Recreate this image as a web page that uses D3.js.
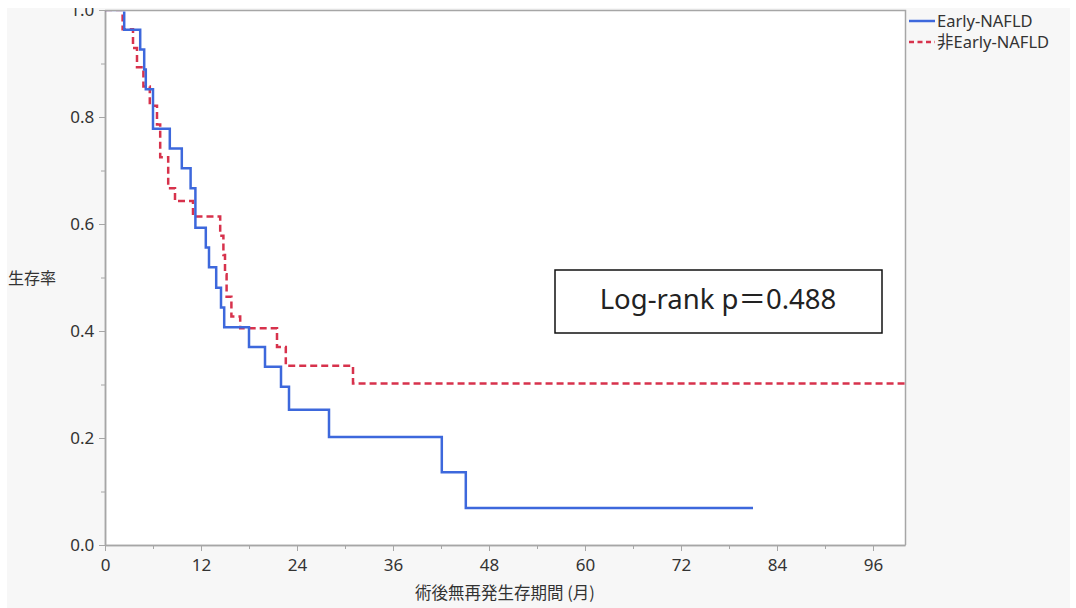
<!DOCTYPE html>
<html><head><meta charset="utf-8">
<script src="https://cdn.jsdelivr.net/npm/d3@7"></script>
<style>
body{margin:0;background:#fff}
svg{display:block}
text{font-family:"Noto Sans","Noto Sans CJK JP",sans-serif;fill:#333}
</style>
</head><body>
<svg id="c" width="1076" height="608"></svg>
<script>
const seriesNames = ["Early-NAFLD", "非Early-NAFLD"];
const earlyTimes = [0, 2.4, 4.4, 4.9, 5.1, 6.0, 8.1, 9.6, 10.7, 11.3, 12.6, 13.0, 13.9, 14.5, 14.9, 18.0, 20.0, 22.0, 23.0, 28.0, 42.1, 45.1, 81.0];
const earlySurv  = [1, 0.963, 0.926, 0.889, 0.852, 0.778, 0.741, 0.704, 0.667, 0.593, 0.556, 0.519, 0.481, 0.444, 0.407, 0.370, 0.333, 0.296, 0.253, 0.202, 0.136, 0.069, 0.069];
const nonTimes = [0, 2.2, 3.5, 4.0, 4.8, 5.6, 6.5, 6.9, 7.9, 8.75, 11.0, 14.4, 14.8, 15.0, 15.2, 15.8, 16.9, 21.5, 22.6, 31.0, 100];
const nonSurv  = [1, 0.964, 0.929, 0.893, 0.857, 0.821, 0.786, 0.725, 0.667, 0.643, 0.614, 0.578, 0.542, 0.506, 0.464, 0.427, 0.405, 0.370, 0.335, 0.302, 0.302];
const xTicks = [0, 12, 24, 36, 48, 60, 72, 84, 96];
const xMinor = [6, 18, 30, 42, 54, 66, 78, 90];
const yTicks = [0, 0.2, 0.4, 0.6, 0.8, 1.0];
const yMinor = [0.1, 0.3, 0.5, 0.7, 0.9];
const xTitle = "術後無再発生存期間 (月)";
const yTitle = "生存率";
const pText = "Log-rank p＝0.488";

const svg = d3.select("#c");
const L = 105, R = 905, T = 10, B = 545;
const x = d3.scaleLinear().domain([0, 100]).range([L, R]);
const y = d3.scaleLinear().domain([0, 1]).range([B, T]);

// backgrounds
svg.append("rect").attr("x", 7).attr("y", 0).attr("width", 1063).attr("height", 608).attr("fill", "#f7f7f7");
svg.append("rect").attr("x", L).attr("y", T).attr("width", R - L).attr("height", B - T).attr("fill", "#fff");

// axes
const axisColor = "#a6a6a6";
const gx = svg.append("g").attr("transform", `translate(0,${B})`)
  .call(d3.axisBottom(x).tickValues(xTicks).tickSize(6).tickSizeOuter(0).tickFormat(d3.format("d")));
const gxm = svg.append("g").attr("transform", `translate(0,${B})`)
  .call(d3.axisBottom(x).tickValues(xMinor).tickSize(4).tickSizeOuter(0).tickFormat(""));
const gy = svg.append("g").attr("transform", `translate(${L},0)`)
  .call(d3.axisLeft(y).tickValues(yTicks).tickSize(6).tickSizeOuter(0).tickFormat(d3.format(".1f")));
const gym = svg.append("g").attr("transform", `translate(${L},0)`)
  .call(d3.axisLeft(y).tickValues(yMinor).tickSize(4).tickSizeOuter(0).tickFormat(""));
[gx, gxm, gy, gym].forEach(g => {
  g.selectAll("path").attr("stroke", axisColor).attr("stroke-width", 1.5);
  g.selectAll("line").attr("stroke", axisColor).attr("stroke-width", 1);
  g.selectAll("text").attr("font-size", 17).style("fill", "#333");
});
gx.selectAll("text").attr("dy", "1.0em");
gy.selectAll("text").attr("dx", "-0.1em");

// frame top/right
svg.append("path").attr("d", `M${L},${T + 0.5}H${R + 0.5}V${B}`).attr("fill", "none").attr("stroke", axisColor).attr("stroke-width", 1.5);

// clip
svg.append("clipPath").attr("id", "pc").append("rect")
  .attr("x", L).attr("y", T + 1.5).attr("width", R - L + 2).attr("height", B - T);

const line = d3.line().x(d => x(d[0])).y(d => y(d[1])).curve(d3.curveStepAfter);
const early = earlyTimes.map((t, i) => [t, earlySurv[i]]);
const non = nonTimes.map((t, i) => [t, nonSurv[i]]);
const blue = "#3d68dc", red = "#d7324c";
const cg = svg.append("g").attr("clip-path", "url(#pc)");
cg.append("path").attr("d", line(non)).attr("fill", "none").attr("stroke", red)
  .attr("stroke-width", 2.5).attr("stroke-dasharray", "7,4");
cg.append("path").attr("d", line(early)).attr("fill", "none").attr("stroke", blue)
  .attr("stroke-width", 2.5);

// legend
const lg = svg.append("g");
[[blue, null, 21], [red, "5,3.5", 42]].forEach((c, i) => {
  lg.append("line").attr("x1", 909).attr("x2", 935).attr("y1", c[2]).attr("y2", c[2])
    .attr("stroke", c[0]).attr("stroke-width", 2.5).attr("stroke-dasharray", c[1]);
  lg.append("text").attr("x", 937).attr("y", c[2]).attr("dy", "0.35em")
    .attr("font-size", 16.5).text(seriesNames[i]);
});

// p-value box
svg.append("rect").attr("x", 555).attr("y", 270).attr("width", 327).attr("height", 63)
  .attr("fill", "#fff").attr("stroke", "#111").attr("stroke-width", 1.5);
svg.append("text").attr("x", 718).attr("y", 299).attr("dy", "0.35em").attr("text-anchor", "middle")
  .attr("font-size", 27.5).style("fill", "#222").text(pText);

// titles
svg.append("text").attr("x", 8).attr("y", 278).attr("dy", "0.35em").attr("font-size", 16)
  .style("font-family", "'Noto Sans CJK JP',sans-serif").text(yTitle);
svg.append("text").attr("x", 505).attr("y", 593).attr("dy", "0.35em").attr("text-anchor", "middle")
  .attr("font-size", 16.5).style("font-family", "'Noto Sans CJK JP',sans-serif").text(xTitle);

// white top band (cropped edge)
svg.append("rect").attr("x", 0).attr("y", 0).attr("width", 1076).attr("height", 8).attr("fill", "#fff");
</script>
</body></html>
